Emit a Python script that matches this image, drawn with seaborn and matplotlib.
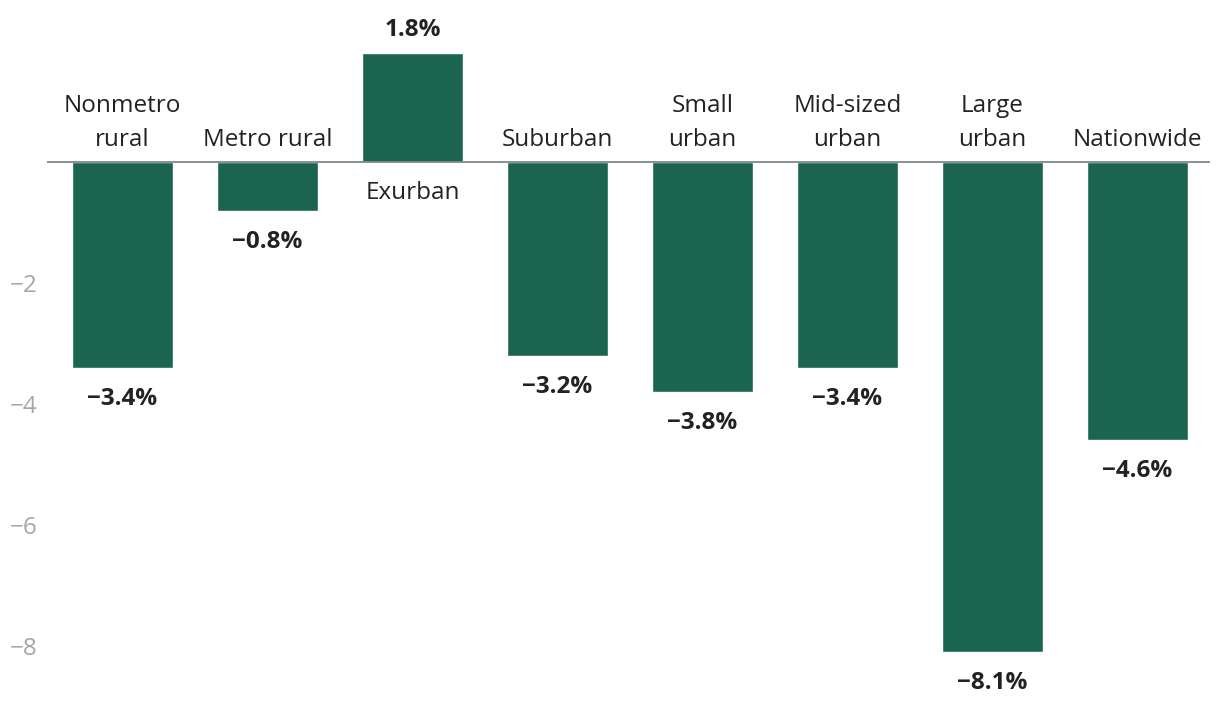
import pandas as pd
import matplotlib.pyplot as plt
import seaborn as sns

# data
categories = ["Nonmetro\nrural", "Metro rural", "Exurban", "Suburban", "Small\nurban",
              "Mid-sized\nurban", "Large\nurban", "Nationwide"]
values = [-3.4, -0.8, 1.8, -3.2, -3.8, -3.4, -8.1, -4.6]
value_labels = ["−3.4%", "−0.8%", "1.8%", "−3.2%", "−3.8%", "−3.4%", "−8.1%", "−4.6%"]
y_ticks = [-2, -4, -6, -8]

df = pd.DataFrame({"category": categories, "value": values})

sns.set_style("white")
plt.rcParams["font.family"] = ["Open Sans", "DejaVu Sans"]

fig = plt.figure(figsize=(12.2, 7.16), dpi=100)
ax = fig.add_axes([47 / 1220, 9.5 / 716, (1210 - 47) / 1220, (706.5 - 23) / 716])

sns.barplot(data=df, x="category", y="value", color="#1b6550", saturation=1,
            width=0.7, ax=ax)

ax.set_xlim(-0.52, 7.5)
ax.set_ylim(-9, 2.3)
ax.axhline(0, color="#7d878a", lw=1.3, zorder=3)

ax.set_yticks(y_ticks)
ax.set_yticklabels([f"−{abs(t)}" for t in y_ticks])
ax.tick_params(axis="y", length=0, pad=7, labelsize=17.5, labelcolor="#a6a6a6")
ax.set_xticks([])
ax.set_xlabel("")
ax.set_ylabel("")
sns.despine(ax=ax, left=True, bottom=True)

fs = 17.5
for i, (v, lab, cat) in enumerate(zip(values, value_labels, categories)):
    if v < 0:
        ax.annotate(lab, (i, v), xytext=(0, -19), textcoords="offset pixels",
                    ha="center", va="top", fontsize=fs, fontweight="bold", color="#222222")
        ax.annotate(cat, (i, 0), xytext=(0, 10), textcoords="offset pixels",
                    ha="center", va="bottom", fontsize=fs, color="#222222",
                    linespacing=1.55, multialignment="center")
    else:
        ax.annotate(lab, (i, v), xytext=(0, 11), textcoords="offset pixels",
                    ha="center", va="bottom", fontsize=fs, fontweight="bold", color="#222222")
        ax.annotate(cat, (i, 0), xytext=(0, -19), textcoords="offset pixels",
                    ha="center", va="top", fontsize=fs, color="#222222",
                    linespacing=1.55, multialignment="center")

fig.savefig("out.png", dpi=100)
